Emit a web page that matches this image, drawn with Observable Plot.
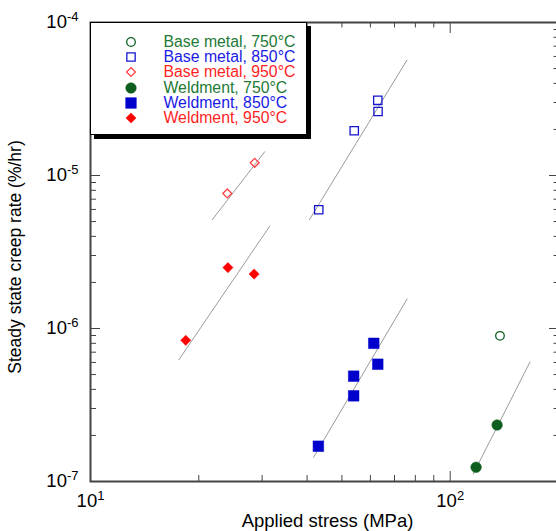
<!DOCTYPE html>
<html><head><meta charset="utf-8">
<script src="https://cdn.jsdelivr.net/npm/d3@7"></script>
<script src="https://cdn.jsdelivr.net/npm/@observablehq/plot@0.6"></script>
<style>
html,body{margin:0;padding:0;background:#fff;overflow:hidden}
#wrap{position:relative;width:556px;height:531px;font-family:"Liberation Sans",Arial,sans-serif}
#legend{position:absolute;left:90px;top:22px;width:217px;height:113px;border:1.5px solid #000;box-shadow:4px 4px 0 #000;background:#fff;box-sizing:border-box}
#legend .row{position:absolute;left:72.5px;font-size:15.8px;line-height:14px;white-space:nowrap}
#legend svg{position:absolute;overflow:visible}
</style></head><body><div id="wrap"></div>
<script>
// ---- data (stress in MPa, steady state creep rate in %/hr) ----
const bm750Stress = [137.5];
const bm750Rate   = [8.95e-7];
const bm850Stress = [43.1, 54.1, 63.0, 62.9];
const bm850Rate   = [5.97e-6, 1.96e-5, 2.62e-5, 3.10e-5];
const bm950Stress = [24.0, 28.6];
const bm950Rate   = [7.63e-6, 1.21e-5];
const w750Stress  = [118, 135];
const w750Rate    = [1.24e-7, 2.34e-7];
const w850Stress  = [43.0, 53.9, 53.9, 61.3, 62.9];
const w850Rate    = [1.70e-7, 3.63e-7, 4.88e-7, 8.0e-7, 5.84e-7];
const w950Stress  = [18.4, 24.1, 28.5];
const w950Rate    = [8.37e-7, 2.50e-6, 2.27e-6];

// power-law fit line end points
const fitGroups = ["BM850", "BM950", "W750", "W850", "W950"];
const fitStress = [[40.6, 75.8], [21.8, 30.5], [115.9, 166.7], [41.7, 75.9], [17.6, 31.5]];
const fitRate   = [[5.14e-6, 5.67e-5], [5.14e-6, 1.43e-5], [1.12e-7, 6.05e-7], [1.44e-7, 1.56e-6], [6.24e-7, 4.67e-6]];

const legendLabels = ["Base metal, 750°C", "Base metal, 850°C", "Base metal, 950°C",
                      "Weldment, 750°C", "Weldment, 850°C", "Weldment, 950°C"];

// tick values
const xMajor = [10, 100];
const xMinor = [20, 30, 40, 50, 60, 70, 80, 90, 200];
const yMajor = [1e-7, 1e-6, 1e-5, 1e-4];
const yMinor = [];
for (const e of [-7, -6, -5]) for (const m of [2,3,4,5,6,7,8,9]) yMinor.push(+(m * Math.pow(10, e)).toPrecision(3));

// ---- styling ----
const GREEN = "#0d5e1f", GREEN_T = "#237a35";
const BLUE = "#0000cd", BLUE_T = "#1a1ae6";
const RED = "#ff0000", RED_T = "#ff1f1f";
const seriesDefs = [
  {x: bm750Stress, y: bm750Rate, symbol: "circle",   open: true,  r: 4.3, color: GREEN, text: GREEN_T},
  {x: bm850Stress, y: bm850Rate, symbol: "square",   open: true,  r: 4.7, color: "#1414d0", text: BLUE_T},
  {x: bm950Stress, y: bm950Rate, symbol: "diamond2", open: true,  r: 4.0, color: "#ff4040", text: RED_T},
  {x: w750Stress,  y: w750Rate,  symbol: "circle",   open: false, r: 5.3, color: GREEN, text: GREEN_T},
  {x: w850Stress,  y: w850Rate,  symbol: "square",   open: false, r: 6.0, color: BLUE, text: BLUE_T},
  {x: w950Stress,  y: w950Rate,  symbol: "diamond2", open: false, r: 4.6, color: RED, text: RED_T}
];

const fitRows = fitGroups.flatMap((g, i) => fitStress[i].map((s, j) => ({group: g, stress: s, rate: fitRate[i][j]})));

const sup = d => "10^" + Math.round(Math.log10(d));
const AX = "#444";
const Y_TITLE = "Steady state creep rate (%/hr)";

const marks = [
  Plot.line(fitRows, {x: "stress", y: "rate", z: "group", stroke: "#9a9a9a", strokeWidth: 1}),
  ...seriesDefs.map(s => Plot.dot(s.x.map((v, i) => ({stress: v, rate: s.y[i]})), {
    x: "stress", y: "rate", symbol: s.symbol, r: s.r,
    fill: s.open ? "none" : s.color, stroke: s.color, strokeWidth: s.open ? 1.3 : 0.5
  })),
  // inward ticks on all four sides
  Plot.axisX(xMajor, {anchor: "bottom", tickSize: -10, tickFormat: () => "", stroke: AX, label: null}),
  Plot.axisX(xMinor, {anchor: "bottom", tickSize: -6, tickFormat: () => "", stroke: AX, label: null}),
  Plot.axisX(xMajor, {anchor: "top", tickSize: -10, tickFormat: () => "", stroke: AX, label: null}),
  Plot.axisX(xMinor, {anchor: "top", tickSize: -4.5, tickFormat: () => "", stroke: AX, label: null}),
  Plot.axisY(yMajor, {anchor: "left", tickSize: -10, tickFormat: () => "", stroke: AX, label: null}),
  Plot.axisY(yMinor, {anchor: "left", tickSize: -6, tickFormat: () => "", stroke: AX, label: null}),
  Plot.axisY(yMajor, {anchor: "right", tickSize: -10, tickFormat: () => "", stroke: AX, label: null}),
  Plot.axisY(yMinor, {anchor: "right", tickSize: -5.5, tickFormat: () => "", stroke: AX, label: null}),
  // tick labels
  Plot.axisX(xMajor, {anchor: "bottom", tickSize: 0, tickPadding: 12, tickFormat: sup, fontSize: 18.5, fill: "#000", label: null}),
  Plot.axisY(yMajor, {anchor: "left", tickSize: 0, tickPadding: 12, tickFormat: sup, fontSize: 18.5, fill: "#000", label: null}),
  // axis titles
  Plot.text(["Applied stress (MPa)"], {frameAnchor: "bottom", dy: 32, dx: 3, lineAnchor: "top", fontSize: 18.5, fill: "#000"}),
  Plot.text([Y_TITLE], {frameAnchor: "left", dx: -75.5, dy: 5, rotate: -90, textAnchor: "middle", lineAnchor: "middle", fontSize: 17.5, fill: "#000"}),
  Plot.frame({stroke: AX, strokeWidth: 2})
];

const chart = Plot.plot({
  width: 556, height: 531,
  marginLeft: 90, marginRight: -2, marginTop: 22, marginBottom: 50,
  x: {type: "log", domain: [10, 200], label: null},
  y: {type: "log", domain: [1e-7, 1e-4], label: null},
  style: {fontFamily: "'Liberation Sans', Arial, sans-serif", background: "#fff", overflow: "visible"},
  marks
});

// superscript exponents in tick labels
d3.select(chart).selectAll("text").each(function() {
  const m = /^10\^(-?\d+)$/.exec(this.textContent);
  if (!m) return;
  this.textContent = "10";
  const t = document.createElementNS("http://www.w3.org/2000/svg", "tspan");
  t.setAttribute("dy", "-7");
  t.setAttribute("font-size", "13");
  t.textContent = m[1];
  this.appendChild(t);
});

const wrap = document.getElementById("wrap");
wrap.appendChild(chart);

// legend
const legend = document.createElement("div");
legend.id = "legend";
const symbolTypes = {circle: d3.symbolCircle, square: d3.symbolSquare, diamond2: d3.symbolDiamond2};
seriesDefs.forEach((s, i) => {
  const cy = 20.7 + i * 15.1 - 1.5;
  const svg = d3.create("svg").attr("width", 1).attr("height", 1)
    .style("left", (131 - 91.5) + "px").style("top", cy + "px");
  svg.append("path")
    .attr("d", d3.symbol(symbolTypes[s.symbol], Math.PI * s.r * s.r)())
    .attr("fill", s.open ? "none" : s.color)
    .attr("stroke", s.color)
    .attr("stroke-width", s.open ? 1.3 : 0.5);
  legend.appendChild(svg.node());
  const row = document.createElement("div");
  row.className = "row";
  row.style.top = (cy - 7) + "px";
  row.style.color = s.text;
  row.textContent = legendLabels[i];
  legend.appendChild(row);
});
wrap.appendChild(legend);
</script>
</body></html>
